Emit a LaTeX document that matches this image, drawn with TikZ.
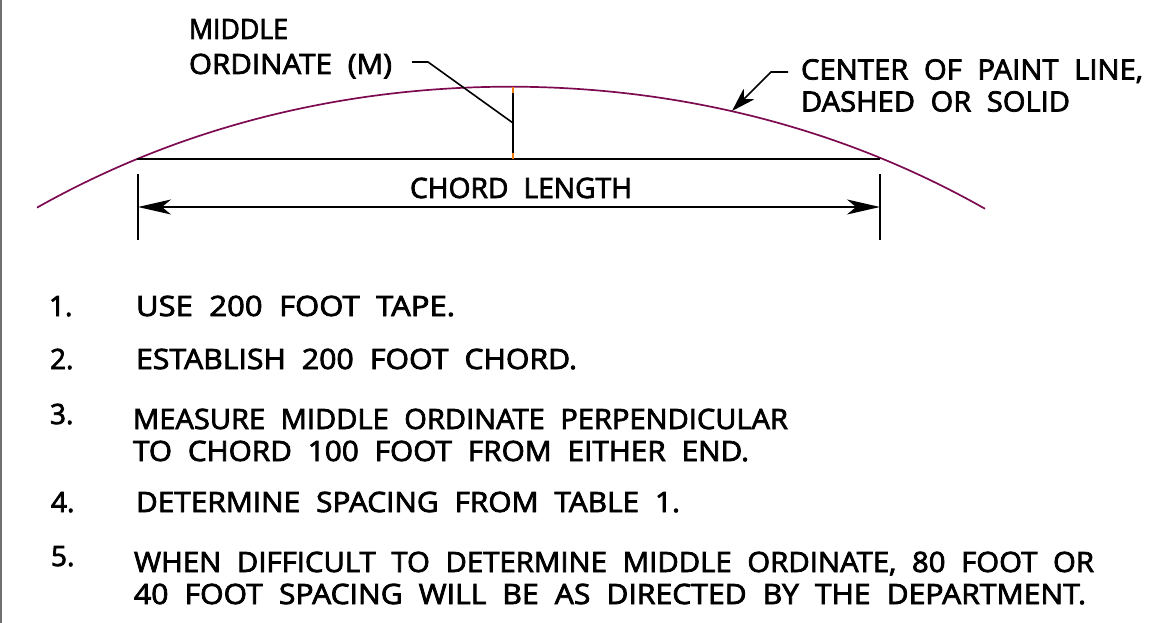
\documentclass[tikz,border=0pt]{standalone}
\usepackage{fontspec}
\setmainfont{Open Sans}[WordSpace=2.05,FakeBold=2.6]
\usetikzlibrary{arrows.meta}
\definecolor{paint}{HTML}{7D0A50}
\definecolor{tickor}{HTML}{F08010}
\definecolor{edgeg}{HTML}{707070}
\newcommand{\fit}[2]{\resizebox{#1pt}{\height}{#2}}
\tikzset{
  lbl/.style={anchor=base west,inner sep=0pt,outer sep=0pt,font=\fontsize{28}{32}\selectfont,text=black},
  ink/.style={draw=black,line width=1.7pt},
  thin ink/.style={draw=black,line width=1.6pt},
  curve/.style={draw=paint,line width=1.7pt},
  tip/.style={-{Stealth[length=33pt,width=15pt,inset=9pt]}},
  tipb/.style={-{Stealth[length=24pt,width=15pt,inset=7pt]}}
}
\begin{document}
\begin{tikzpicture}[x=1pt,y=-1pt]
\useasboundingbox (0,0) rectangle (1150,623);
\draw[edgeg,line width=2pt] (0.5,0) -- (0.5,623);
% curve
\draw[curve] plot[domain=37:985,samples=120,smooth] (\x,{86.7+4.857*((\x-510)/100)^2+0.0245*((\x-510)/100)^4});
% chord and ordinate
\coordinate (cl) at (137,159); \coordinate (cr) at (880,159);
\coordinate (ot) at (513,87); \coordinate (ob) at (513,159);
\coordinate (om) at (513,123);
\draw[ink] (cl) -- (cr);
\draw[ink] (ot) -- (ob);
\draw[tickor,line width=2.6pt] (ot) -- +(0,6);
\draw[tickor,line width=2.6pt] (ob) -- +(0,-6);
% leader
\coordinate (la) at (412,62); \coordinate (lb) at (428,62);
\draw[thin ink] (la) -- (lb) -- (om);
\coordinate (pa) at (788,72); \coordinate (pb) at (771,72); \coordinate (pt) at (732,111);
\draw[thin ink,tipb] (pa) -- (pb) -- (pt);
% dimension
\coordinate (dl) at (138,207); \coordinate (dr) at (880,207);
\draw[thin ink] (138,174) coordinate (t1) -- (138,240) coordinate (t2);
\draw[thin ink] (880,174) coordinate (t3) -- (880,240) coordinate (t4);
\draw[ink,tip] (510,207) coordinate (dm) -- (dl);
\draw[ink,tip] (dm) -- (dr);
% text
\node[lbl] (t01) at (189,39) {\fit{99}{MIDDLE}};
\node[lbl] (t02) at (189,74) {\fit{203}{ORDINATE (M)}};
\node[lbl] (t03) at (801,79.5) {\fit{342}{CENTER OF PAINT LINE,}};
\node[lbl] (t04) at (801,111.5) {\fit{269}{DASHED OR SOLID}};
\node[lbl] (t05) at (410,198) {\fit{222}{CHORD LENGTH}};
\node[lbl] (n1) at (49,316) {1.};
\node[lbl] (l1) at (136,316) {\fit{319}{USE 200 FOOT TAPE.}};
\node[lbl] (n2) at (50,369) {2.};
\node[lbl] (l2) at (136,369) {\fit{441}{ESTABLISH 200 FOOT CHORD.}};
\node[lbl] (n3) at (50,424) {3.};
\node[lbl] (l3a) at (133,429) {\fit{655}{MEASURE MIDDLE ORDINATE PERPENDICULAR}};
\node[lbl] (l3b) at (133,461) {\fit{616}{TO CHORD 100 FOOT FROM EITHER END.}};
\node[lbl] (n4) at (51,512) {4.};
\node[lbl] (l4) at (136,512) {\fit{544}{DETERMINE SPACING FROM TABLE 1.}};
\node[lbl] (n5) at (51,566) {5.};
\node[lbl] (l5a) at (134,572) {\fit{960}{WHEN DIFFICULT TO DETERMINE MIDDLE ORDINATE, 80 FOOT OR}};
\node[lbl] (l5b) at (134,604) {\fit{952}{40 FOOT SPACING WILL BE AS DIRECTED BY THE DEPARTMENT.}};
\end{tikzpicture}
\end{document}
